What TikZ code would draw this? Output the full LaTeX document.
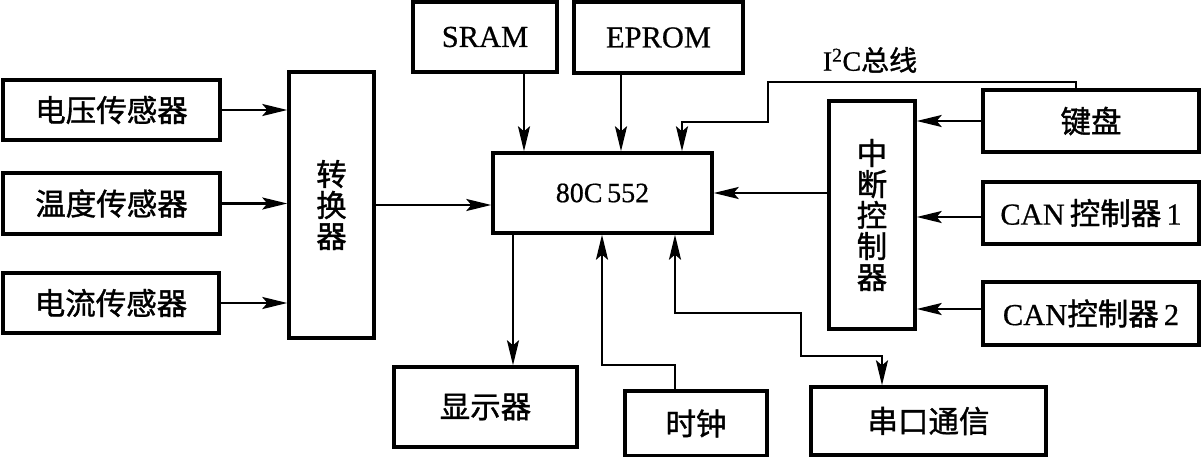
\documentclass[tikz,border=0pt]{standalone}
\usepackage{fontspec}
\setmainfont{Liberation Serif}[FakeBold=0.6]
\newfontfamily\cjk{Noto Sans CJK SC}[FakeBold=1.2]
\usetikzlibrary{arrows.meta,calc}
\begin{document}
\begin{tikzpicture}[x=1pt,y=-1pt,
  box/.style={draw, line width=3.4pt, inner sep=0pt, align=center,
    font=\fontsize{30.5}{31}\selectfont},
  arr/.style={line width=2.3pt, -{Stealth[length=25pt,width=12pt,inset=5pt]}},
  arrb/.style={line width=2.3pt, {Stealth[length=25pt,width=12pt,inset=5pt]}-{Stealth[length=25pt,width=12pt,inset=5pt]}},
  ln/.style={line width=2.3pt}]
\useasboundingbox (0,0) rectangle (1202,457);
% left sensors
\node[box, minimum width=217pt, minimum height=60pt] (v) at (111.5,110) {\cjk 电压传感器};
\node[box, minimum width=217pt, minimum height=61pt] (t) at (111.5,203.5) {\cjk 温度传感器};
\node[box, minimum width=216pt, minimum height=60pt] (c) at (111,303) {\cjk 电流传感器};
\node[box, minimum width=85pt, minimum height=266pt] (conv) at (331.5,205) {\cjk 转\\\cjk 换\\\cjk 器};
% core
\node[box, minimum width=219pt, minimum height=80pt, font=\fontsize{28}{30}\selectfont] (mcu) at (602.5,193) {80C\,552};
\node[box, minimum width=144pt, minimum height=70pt] (sram) at (485,37) {SRAM};
\node[box, minimum width=169pt, minimum height=71pt] (eprom) at (658.5,37.5) {EPROM};
% right side
\node[box, minimum width=86pt, minimum height=228pt] (int) at (872,215) {\cjk 中\\\cjk 断\\\cjk 控\\\cjk 制\\\cjk 器};
\node[box, minimum width=216pt, minimum height=62pt] (kb) at (1091,121) {\cjk 键盘};
\node[box, minimum width=216pt, minimum height=62pt] (can1) at (1091,213) {CAN\,{\cjk 控制器}\,1};
\node[box, minimum width=216pt, minimum height=63pt] (can2) at (1091,313.5) {CAN{\cjk 控制器}\,2};
% bottom
\node[box, minimum width=183pt, minimum height=80pt] (disp) at (485.5,407) {\cjk 显示器};
\node[box, minimum width=142pt, minimum height=65pt] (clk) at (696,423.5) {\cjk 时钟};
\node[box, minimum width=235pt, minimum height=68pt] (ser) at (928.5,421) {\cjk 串口通信};
% label
\node[font=\fontsize{28}{30}\selectfont, inner sep=0pt] (i2c) at (870,60) {I\textsuperscript{2}C{\cjk 总线}};
% connectors
\draw[arr] (v.east) -- (v.east -| conv.west);
\draw[arr] (t.east) -- (t.east -| conv.west);
\draw[arr] (c.east) -- (c.east -| conv.west);
\draw[arr] (conv.east) -- (conv.east -| mcu.west);
\draw[arr] ([xshift=39pt]sram.south) -- ([xshift=39pt]sram.south |- mcu.north);
\draw[arr] ([xshift=-37.5pt]eprom.south) -- ([xshift=-37.5pt]eprom.south |- mcu.north);
\coordinate (i1) at (768,82);
\coordinate (i2) at (682,122);
\draw[arr] ([xshift=-15pt]kb.north) |- (i1) |- (i2) -- (i2 |- mcu.north);
\draw[arr] (int.west |- mcu.east) -- (mcu.east);
\draw[arr] (kb.west) -- (kb.west -| int.east);
\draw[arr] ([yshift=-4pt]can1.west) -- ([yshift=-4pt]can1.west -| int.east);
\draw[arr] ([yshift=4.5pt]can2.west) -- ([yshift=4.5pt]can2.west -| int.east);
\draw[arr] ([xshift=-89.5pt]mcu.south) -- ([xshift=-89.5pt]mcu.south |- disp.north);
\coordinate (k1) at (602,365);
\draw[arr] ([xshift=-21pt]clk.north) |- (k1) -- (k1 |- mcu.south);
\coordinate (s1) at (675,313);
\coordinate (s2) at (801,356);
\draw[arrb] (s1 |- mcu.south) -- (s1) -| (s2) -| ([xshift=-46.5pt]ser.north);
\end{tikzpicture}
\end{document}
